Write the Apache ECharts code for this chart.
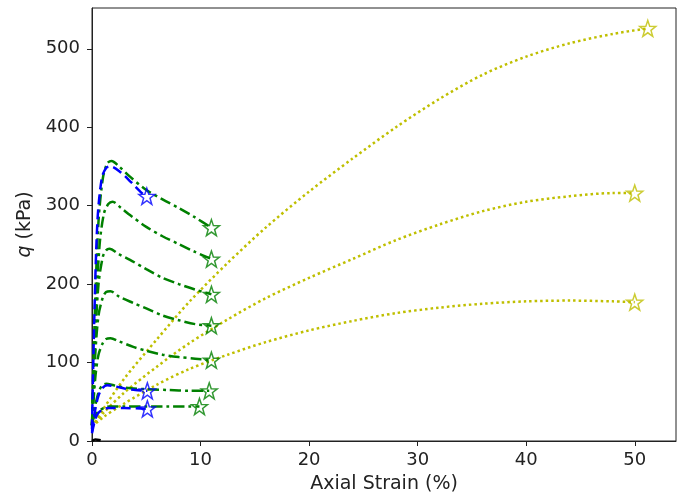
<!DOCTYPE html>
<html>
<head>
<meta charset="utf-8">
<script src="https://cdn.jsdelivr.net/npm/echarts@6/dist/echarts.min.js"></script>
<style>
html,body{margin:0;padding:0;background:#fff;}
#chart{width:678px;height:496px;}
</style>
</head>
<body>
<div id="chart"></div>
<script>
// ---- data: [axial strain %, q kPa] ----
const green1 = [[0,20],[0.3,180],[0.6,280],[1.0,335],[1.4,354],[1.8,357],[2.5,350],[3.5,337],[5,320],[6.5,308],[8,297],[9.5,285],[11,272]];
const green2 = [[0,20],[0.3,150],[0.7,250],[1.1,290],[1.5,302],[1.9,305],[2.6,298],[3.5,288],[5,273],[6.5,261],[8,251],[9.5,241],[11,232]];
const green3 = [[0,20],[0.3,130],[0.6,200],[1.0,235],[1.3,243],[1.6,245],[2.5,238],[3.5,231],[5,219],[6.5,208],[8,200],[9.5,193],[11,187]];
const green4 = [[0,20],[0.3,110],[0.6,160],[1.0,183],[1.3,190],[1.7,191],[2.5,184],[3.8,176],[5,169],[6.5,160],[8,154],[9.5,149],[11,147]];
const green5 = [[0,20],[0.3,80],[0.6,110],[1.0,125],[1.3,130],[1.7,131],[2.5,127],[3.8,120],[5,115],[6.5,110],[8,107],[9.5,105],[11,103]];
const green6 = [[0,20],[0.3,45],[0.6,62],[0.9,70],[1.3,73],[2,71],[3,68],[5,66],[7,65],[9,64],[10.8,64]];
const green7 = [[0,25],[0.3,33],[0.7,39],[1.1,42],[1.6,44],[3,44],[5,44],[7,44],[9,44],[9.9,44]];
const blue1 = [[0,15],[0.2,150],[0.5,280],[0.9,335],[1.3,348],[1.7,350],[2.6,343],[3.6,330],[4.6,316],[5.05,312]];
const blue2 = [[0,12],[0.3,40],[0.6,58],[1,68],[1.4,71],[2,70],[3,67],[4,65],[5.1,64]];
const blue3 = [[0,10],[0.3,28],[0.6,36],[1,40],[1.5,42],[3,42],[5.1,41]];
const yellow1 = [[0,18],[1,40],[3,80],[6,130],[9,178],[12.5,227],[16,272],[20,318],[24,360],[28,400],[32,436],[36,467],[40,490],[44,507],[48,519],[51.2,526]];
const yellow2 = [[0,18],[1,35],[3,62],[6,95],[9,125],[12.5,155],[16,182],[20,208],[24,232],[28,256],[32,276],[36,293],[40,305],[44,312],[48,316],[50,316]];
const yellow3 = [[0,18],[1,30],[3,48],[6,72],[9,92],[12.5,110],[16,126],[20,141],[24,153],[28,163],[32,170],[36,175],[40,178],[44,179],[48,178],[50,177]];
const black1 = [[0,0],[0.3,2],[0.8,1]];

const xTicks = [0,10,20,30,40,50];
const yTicks = [0,100,200,300,400,500];
const xMax = 53.8;
const yMax = 552;

const greenCurves = [green1, green2, green3, green4, green5, green6, green7];
const blueCurves = [blue1, blue2, blue3];
const yellowCurves = [yellow1, yellow2, yellow3];

const GREEN = '#008000', BLUE = '#0000ff', YELLOW = '#bfbf00';
const STAR = 'path://M0,-10 L2.35,-3.24 L9.51,-3.09 L3.80,1.24 L5.88,8.09 L0,4 L-5.88,8.09 L-3.80,1.24 L-9.51,-3.09 L-2.35,-3.24 Z';

function lineSeries(data, color, type, width) {
  return {
    type: 'line', data: data, showSymbol: false, symbol: 'none',
    smooth: 0.3, silent: true,
    lineStyle: {color: color, width: width, type: type, cap: 'butt'},
    z: 2
  };
}
function starSeries(curves, color) {
  return {
    type: 'scatter', symbol: STAR, symbolSize: 16, silent: true,
    data: curves.map(c => c[c.length - 1]),
    itemStyle: {color: 'rgba(255,255,255,0)', borderColor: color, borderWidth: 1.5},
    z: 4
  };
}

const series = [];
yellowCurves.forEach(c => series.push(lineSeries(c, YELLOW, [2.5, 3], 2.5)));
greenCurves.forEach(c => series.push(lineSeries(c, GREEN, [11, 4, 3, 4], 2.5)));
blueCurves.forEach(c => series.push(lineSeries(c, BLUE, [10, 5], 2.5)));
series.push(lineSeries(black1, '#000', 'solid', 2.5));
series.push(starSeries(yellowCurves, YELLOW));
series.push(starSeries(greenCurves, GREEN));
series.push(starSeries(blueCurves, BLUE));

const FONT = 'DejaVu Sans';
const chart = echarts.init(document.getElementById('chart'), null, {renderer: 'canvas'});
chart.setOption({
  animation: false,
  backgroundColor: '#fff',
  grid: {left: 92, right: 2, top: 8, bottom: 55, outerBoundsMode: 'none', containLabel: false,
         show: true, borderColor: '#222', borderWidth: 1, backgroundColor: 'transparent'},
  xAxis: {
    type: 'value', min: 0, max: xMax, interval: 10,
    name: 'Axial Strain (%)', nameLocation: 'middle', nameGap: 34,
    nameTextStyle: {fontFamily: FONT, fontSize: 19, color: '#222'},
    axisLine: {show: true, lineStyle: {color: '#222', width: 1}},
    axisTick: {show: true, inside: false, length: 5, lineStyle: {color: '#222'}, customValues: xTicks},
    axisLabel: {fontFamily: FONT, fontSize: 18, color: '#222', margin: 10, customValues: xTicks},
    splitLine: {show: false}
  },
  yAxis: {
    type: 'value', min: 0, max: yMax, interval: 100,
    name: '{i|q} (kPa)', nameLocation: 'middle', nameGap: 56, nameRotate: 90,
    nameTextStyle: {fontFamily: FONT, fontSize: 19, color: '#222', rich: {i: {fontFamily: FONT, fontSize: 19, fontStyle: 'italic', color: '#222'}}},
    axisLine: {show: true, lineStyle: {color: '#222', width: 1}},
    axisTick: {show: true, inside: false, length: 5, lineStyle: {color: '#222'}, customValues: yTicks},
    axisLabel: {fontFamily: FONT, fontSize: 18, color: '#222', margin: 12, customValues: yTicks},
    splitLine: {show: false}
  },
  series: series
});
</script>
</body>
</html>
